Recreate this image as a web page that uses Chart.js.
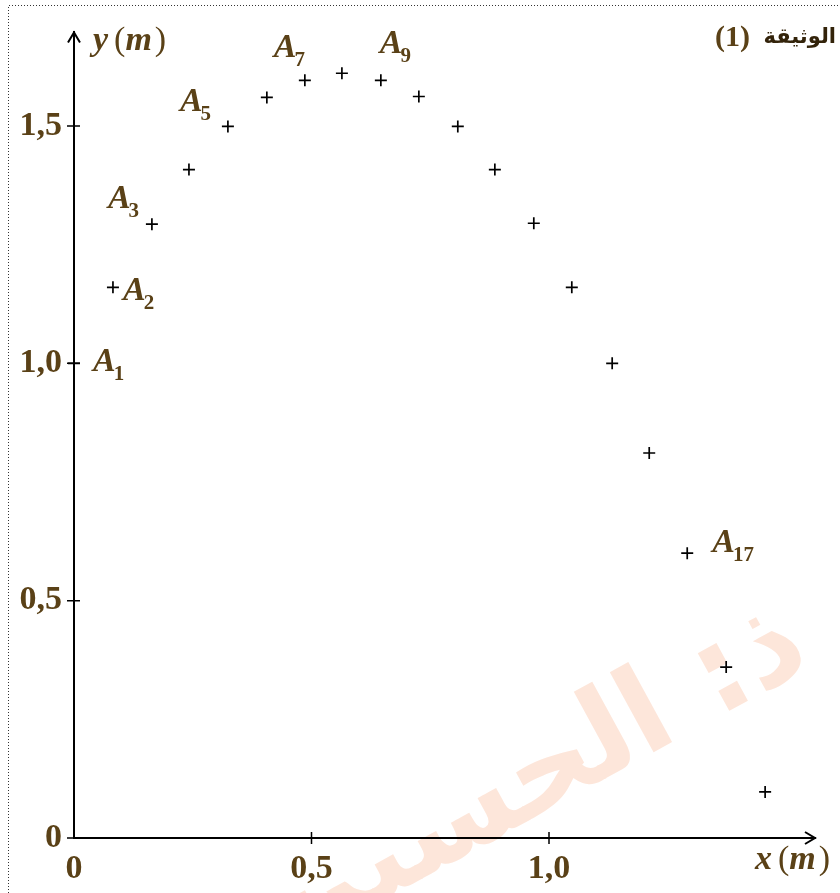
<!DOCTYPE html>
<html>
<head>
<meta charset="utf-8">
<script src="https://cdn.jsdelivr.net/npm/chart.js@4"></script>
<style>
  body { margin: 0; background: #fff; }
  #wrap { width: 840px; height: 893px; }
</style>
</head>
<body>
<div id="wrap"><canvas id="myChart" width="840" height="893"></canvas></div>
<script>
// positions of the ball, A1 ... A19 (m)
const xValues = [0, 0.082, 0.164, 0.242, 0.324, 0.406, 0.486, 0.564, 0.646, 0.726,
  0.808, 0.886, 0.968, 1.048, 1.133, 1.211, 1.291, 1.373, 1.455];
const yValues = [1.0, 1.16, 1.293, 1.408, 1.499, 1.56, 1.596, 1.611, 1.596, 1.562,
  1.499, 1.408, 1.295, 1.16, 1.0, 0.811, 0.6, 0.36, 0.097];
const xTicks = [0, 0.5, 1.0];
const yTicks = [0, 0.5, 1.0, 1.5];
const namedPoints = [1, 2, 3, 5, 7, 9, 17];

const brown = "#5a4117";
const serif = '"Liberation Serif", "Times New Roman", serif';

// where each A_i label sits relative to its point (dx, dy to baseline)
const labelOffsets = {
  1: [19, 8], 2: [10, 13], 3: [-44, -16], 5: [-48, -15],
  7: [-31, -23], 9: [-1, -27], 17: [25, -1]
};

const fmt = v => v === 0 ? "0" : v.toFixed(1).replace(".", ",");

function drawName(ctx, x, y, sub) {
  ctx.font = "italic bold 34px " + serif;
  ctx.fillText("A", x, y);
  const w = ctx.measureText("A").width;
  ctx.font = "bold 21px " + serif;
  ctx.fillText(sub, x + w - 2, y + 9);
}

function drawUnitTitle(ctx, x, y, letter) {
  ctx.font = "italic bold 34px " + serif;
  ctx.fillText(letter, x, y);
  let cx = x + ctx.measureText(letter).width + 6;
  ctx.font = "34px " + serif;
  ctx.fillText("(", cx, y);
  cx += ctx.measureText("(").width;
  ctx.font = "italic bold 34px " + serif;
  ctx.fillText("m", cx, y);
  cx += ctx.measureText("m").width + 3;
  ctx.font = "34px " + serif;
  ctx.fillText(")", cx, y);
}

const decor = {
  id: "decor",
  beforeDraw(chart) {
    const ctx = chart.ctx;
    ctx.save();
    ctx.fillStyle = "#fff";
    ctx.fillRect(0, 0, chart.width, chart.height);
    // watermark
    ctx.translate(785, 612);
    ctx.rotate(-0.5);
    ctx.fillStyle = "#fde6da";
    ctx.font = 'bold 120px "DejaVu Sans"';
    ctx.textAlign = "right";
    ctx.textBaseline = "alphabetic";
    ctx.fillText("ذ: الحسين", 0, 60);
    ctx.restore();
  },
  afterDraw(chart) {
    const ctx = chart.ctx;
    const xs = chart.scales.x, ys = chart.scales.y;
    const area = chart.chartArea;
    const x0 = xs.getPixelForValue(0), y0 = ys.getPixelForValue(0);
    ctx.save();
    ctx.strokeStyle = "#000";
    ctx.lineWidth = 1.5;
    // tick marks crossing the axes
    ctx.beginPath();
    yTicks.forEach(v => {
      const p = ys.getPixelForValue(v);
      ctx.moveTo(x0 - 7, p); ctx.lineTo(x0 + 6, p);
    });
    xTicks.slice(1).forEach(v => {
      const p = xs.getPixelForValue(v);
      ctx.moveTo(p, y0 - 6); ctx.lineTo(p, y0 + 6);
    });
    ctx.stroke();
    // arrow heads
    ctx.lineWidth = 2;
    ctx.beginPath();
    ctx.moveTo(area.right - 10, y0 - 6); ctx.lineTo(area.right, y0); ctx.lineTo(area.right - 10, y0 + 6);
    ctx.moveTo(x0 - 6, area.top + 10); ctx.lineTo(x0, area.top); ctx.lineTo(x0 + 6, area.top + 10);
    ctx.stroke();

    ctx.fillStyle = brown;
    ctx.textAlign = "left";
    ctx.textBaseline = "alphabetic";
    drawUnitTitle(ctx, x0 + 19, area.top + 18, "y");
    drawUnitTitle(ctx, area.right - 60, y0 + 31, "x");

    // point names
    const meta = chart.getDatasetMeta(0);
    namedPoints.forEach(n => {
      const el = meta.data[n - 1];
      const off = labelOffsets[n];
      drawName(ctx, el.x + off[0], el.y + off[1], String(n));
    });

    // document header
    ctx.textAlign = "right";
    ctx.fillStyle = "#33230a";
    ctx.font = 'bold 21px "DejaVu Sans"';
    ctx.fillText("الوثيقة", 836, 43);
    ctx.fillStyle = brown;
    ctx.font = "bold 30px " + serif;
    ctx.fillText("(1)", 750, 46);

    // dotted frame
    ctx.strokeStyle = "#333";
    ctx.lineWidth = 1;
    ctx.setLineDash([1, 2]);
    ctx.beginPath();
    ctx.moveTo(8.5, chart.height); ctx.lineTo(8.5, 5.5); ctx.lineTo(chart.width, 5.5);
    ctx.stroke();
    ctx.restore();
  }
};

new Chart(document.getElementById("myChart").getContext("2d"), {
  type: "scatter",
  data: {
    datasets: [{
      data: xValues.map((x, i) => ({ x: x, y: yValues[i] })),
      pointStyle: "cross",
      pointRadius: 6,
      pointBorderWidth: 1.7,
      borderColor: "#000",
      backgroundColor: "#000",
      clip: false
    }]
  },
  options: {
    responsive: false,
    animation: false,
    layout: { padding: { top: 32, right: 25, left: 0, bottom: 0 } },
    plugins: { legend: { display: false }, tooltip: { enabled: false } },
    scales: {
      x: {
        type: "linear",
        min: 0, max: 1.56,
        afterBuildTicks: s => { s.ticks = xTicks.map(v => ({ value: v })); },
        afterFit: s => { s.height = 55; },
        grid: { display: false, drawTicks: false },
        border: { display: true, color: "#000", width: 2 },
        ticks: {
          color: brown, padding: 11,
          font: { family: serif, size: 34, weight: "bold" },
          callback: v => fmt(v)
        }
      },
      y: {
        type: "linear",
        min: 0, max: 1.697,
        afterBuildTicks: s => { s.ticks = yTicks.map(v => ({ value: v })); },
        afterFit: s => { s.width = 74; },
        grid: { display: false, drawTicks: false },
        border: { display: true, color: "#000", width: 2 },
        ticks: {
          color: brown, padding: 12,
          font: { family: serif, size: 34, weight: "bold" },
          callback: v => fmt(v)
        }
      }
    }
  },
  plugins: [decor]
});
</script>
</body>
</html>
